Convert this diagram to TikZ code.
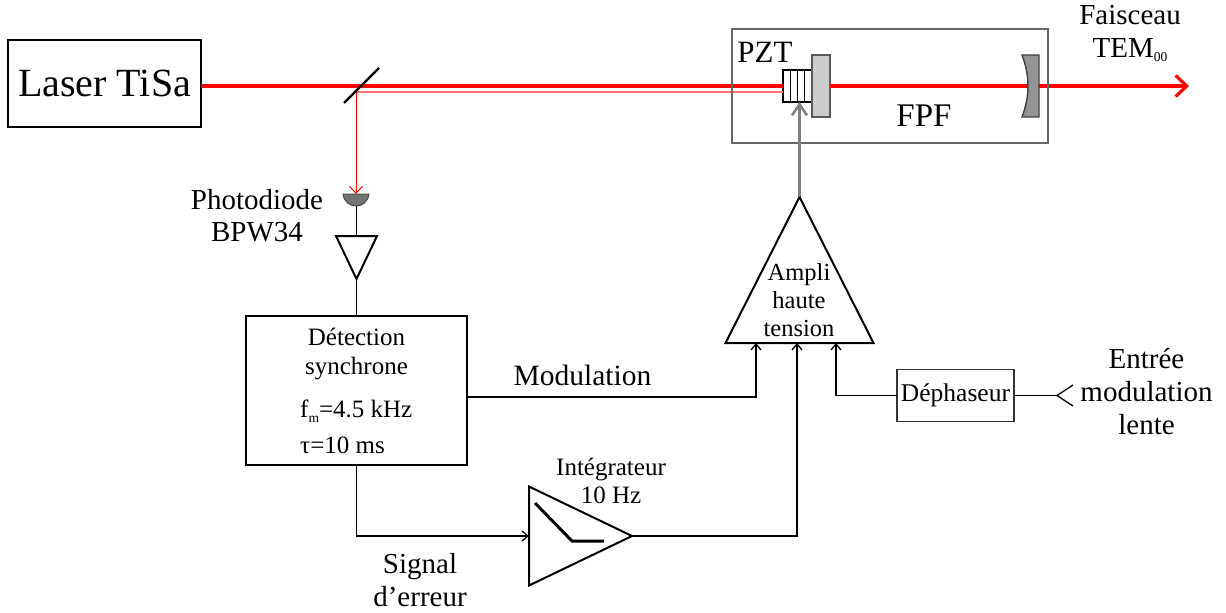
\documentclass[tikz,border=0pt]{standalone}
\usepackage{fontspec}
\setmainfont{Liberation Serif}
\usetikzlibrary{shapes,shapes.geometric,arrows.meta,positioning,calc}
\newcommand{\petitsub}[1]{\raisebox{-4.5pt}{\fontsize{13.5}{14}\selectfont #1}}
\tikzset{
  % Boxes
  cbox/.style={draw, rectangle, line width=1.1pt, inner sep=0pt, outer sep=0pt, align=center},
  cbox-thick/.style={cbox, line width=2.2pt},
  cbox-grey/.style={cbox, draw=black!60, line width=1.6pt},
  % Triangles (amplifiers)
  ampbox/.style={draw, isosceles triangle, isosceles triangle stretches, line width=2pt,
                 inner sep=0pt, outer sep=0pt, line join=miter},
  % Mirrors
  mirror/.style={draw=black!75, line width=1.4pt},
  % Beams
  beam/.style={red, line width=3.6pt},
  beam-weak/.style={red!55, line width=1.6pt},
  beam-out/.style={beam, -{Straight Barb[length=11pt,width=21pt,line width=3.2pt]}},
  beam-det/.style={red, line width=1pt, -{Straight Barb[length=7pt,width=13pt]}},
  % Wires
  wire/.style={line width=1.3pt},
  wirearr/.style={wire, -{Straight Barb[length=6pt,width=10pt]}},
  hvarr/.style={black!50, line width=3pt, -{Straight Barb[length=11pt,width=15pt,line width=2.6pt]}},
  % Labels
  lab/.style={align=center, inner sep=0pt, font=\fontsize{29}{33}\selectfont},
  labsm/.style={align=center, inner sep=0pt, font=\fontsize{25}{28.5}\selectfont}
}
\begin{document}
\begin{tikzpicture}[x=1pt,y=-1pt]
\useasboundingbox (0,0) rectangle (1226,613);

% Laser and beam line
\node[cbox, minimum width=193pt, minimum height=87pt, font=\fontsize{40}{42}\selectfont] (laser)
  at (104.5,83.5) {Laser TiSa};
\coordinate (bs) at (356,86);
\coordinate (bsw) at (356,92);
\coordinate (out) at (1189,86);

% Cavity parts
\node[cbox, minimum width=29pt, minimum height=32pt] (pzt) at (797.5,86) {};
\node[draw=black!65, fill=black!20, line width=1.4pt, minimum width=18pt, minimum height=62pt,
      inner sep=0pt, outer sep=0pt, right=0pt of pzt] (m1) {};
\coordinate (m2) at (1027,86);

% Beams
\draw[beam] (laser.east |- bs) -- (bs) -- (pzt.west |- bs);
\draw[beam-weak] (bsw) -- (pzt.west |- bsw);
\draw[beam-out] (m1.east) -- (out);
\coordinate (pd) at (356,194);
\draw[beam-det] (bsw) -- (pd);

% PZT stack
\foreach \i in {1,2,3} {
  \draw[line width=1.2pt] ($(pzt.north west)+(\i*7.25,0)$) -- ($(pzt.south west)+(\i*7.25,0)$);
}

% Second mirror
\draw[mirror, fill=black!42] (1022,55) -- (1039,55) -- (1039,117) -- (1022,117)
  .. controls (1030,96) and (1030,76) .. (1022,55) -- cycle;

% FPF enclosure
\node[cbox-grey, minimum width=316pt, minimum height=114pt] (fpf) at (890,86) {};
\node[lab, font=\fontsize{31}{33}\selectfont] (pztlab) at (765,52) {PZT};
\node[lab, font=\fontsize{33}{35}\selectfont] (fpflab) at (924,116) {FPF};
\node[lab] (tem) at (1130,33.5) {Faisceau\\TEM\petitsub{00}};

% Beam splitter
\coordinate (bsa) at (344,103);
\coordinate (bsb) at (379,68);
\draw[line width=2.2pt] (bsa) -- (bsb);

% Photodiode and preamplifier
\draw[draw=black!70, fill=black!55, line width=1pt] (343,194)
  .. controls (345,210) and (367,210) .. (369,194) -- cycle;
\coordinate (pdb) at (356.5,206);
\node[lab, font=\fontsize{29}{32}\selectfont] (pdlab) at (257,216) {Photodiode\\BPW34};
\node[ampbox, shape border rotate=270, minimum height=43pt, minimum width=41pt, anchor=apex] (pre)
  at (356.5,279) {};
\draw[wire] (pdb) -- (pre.lower side);

% Synchronous detection
\node[cbox-thick, minimum width=221pt, minimum height=149pt] (det) at (356.5,390.5) {};
\draw[wire] (pre.apex) -- (det.north);
\node[labsm] (detlab) at (356.5,354) {Détection\\synchrone};
\node[labsm, anchor=west] (fm) at (300,411) {f\petitsub{m}=4.5 kHz};
\node[labsm, anchor=west] (tau) at (300,445) {τ=10 ms};

% High voltage amplifier
\node[ampbox, shape border rotate=90, minimum height=146pt, minimum width=148pt, anchor=apex] (hv)
  at (799.5,197) {};
\node[labsm, font=\fontsize{24.5}{28.3}\selectfont] (hvlab) at (799,300) {Ampli\\haute\\tension};
\draw[hvarr] (hv.apex) -- (hv.apex |- pzt.south);

% Integrator
\node[ampbox, minimum height=103pt, minimum width=99pt, anchor=apex] (integ) at (632,536) {};
\draw[line width=3pt] (535,503) -- (572,541) -- (604,541);
\node[labsm] (intlab) at (611,481) {Intégrateur\\10 Hz};

% Phase shifter and slow input
\node[cbox-grey, draw=black!80, minimum width=117pt, minimum height=52pt,
      font=\fontsize{25.5}{28}\selectfont] (deph) at (955.5,395.5) {Déphaseur};
\coordinate (inp) at (1057,395.5);
\draw[wire] (1073,385) -- (inp) -- (1073,406);
\draw[wire] (deph.east) -- (inp);
\node[lab] (inplab) at (1146.5,392) {Entrée\\modulation\\lente};

% Connections to the amplifier
\draw[wirearr] ($(det.east)+(0,6.5)$) -| ($(hv.lower side)+(-43.5,0)$);
\draw[wirearr] (integ.apex) -| ($(hv.lower side)+(-2.5,0)$);
\draw[wirearr] (deph.west) -| ($(hv.lower side)+(36.5,0)$);
\draw[wirearr] (det.south) |- (integ.lower side);

% Signal labels
\node[lab, font=\fontsize{29.5}{33}\selectfont] (modlab) at (582.5,375) {Modulation};
\node[lab] (errlab) at (420,580.5) {Signal\\d’erreur};

\end{tikzpicture}
\end{document}
